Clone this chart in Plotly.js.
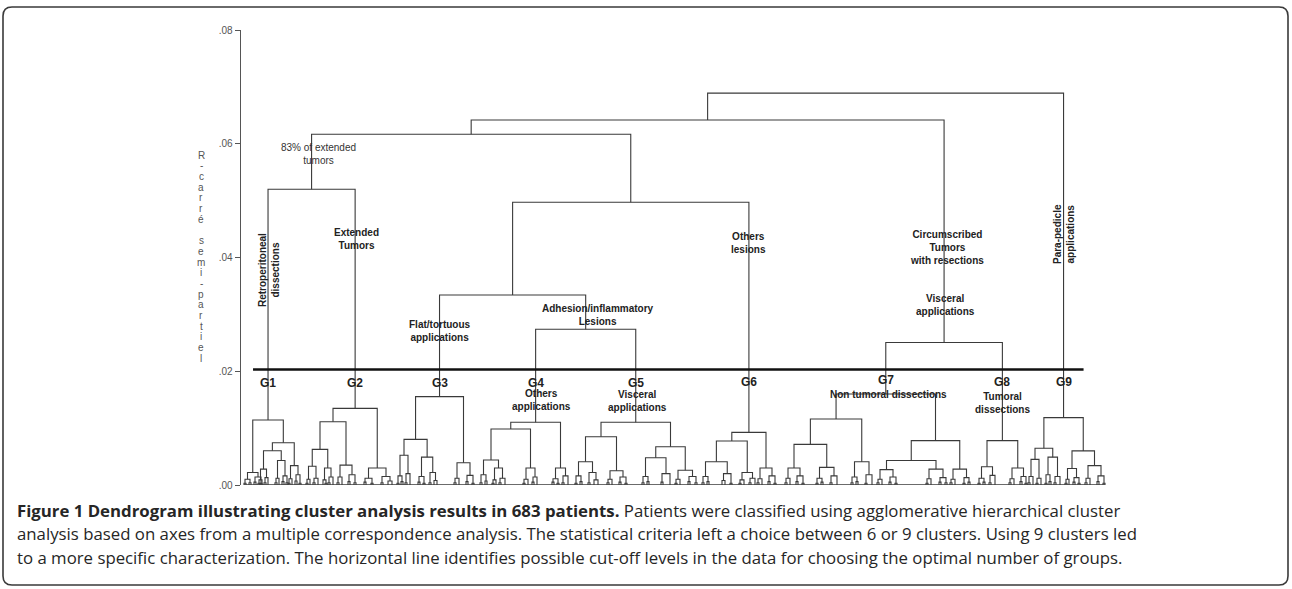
<!DOCTYPE html>
<html><head><meta charset="utf-8">
<script src="https://cdn.plot.ly/plotly-3.0.1.min.js"></script>
<style>html,body{margin:0;padding:0;background:#fff;}#chart{width:1292px;height:589px;}</style>
</head><body><div id="chart"></div>
<script>
// ---------------- DATA ----------------
// Node = [height, left, right]; leaf = leaf position (ordering coordinate)
const groupNames = ['G1','G2','G3','G4','G5','G6','G7','G8','G9'];

const g1Tree = [0.01143,
  [0.0022, [0.0010, [0.0003, 244, 246], [0.0004, 249, 251]], [0.0014, [0.0005, 254, 256], [0.0003, 260, 262]]],
  [0.00744,
    [0.00603, [0.0028, [0.0009, [0.0003, 258, 260], 262], [0.0013, [0.0004, 264, 266], 268]],
              [0.0043, [0.0012, [0.0004, 275, 277], 279], [0.0016, [0.0006, 282, 284], [0.0004, 286, 288]]]],
    [0.0034, [0.0011, [0.0003, 288, 290], 292], [0.0018, [0.0007, 295, 297], [0.0003, 299, 301]]]]];

const g2Tree = [0.01348,
  [0.01113,
    [0.00627, [0.0033, [0.0010, [0.0003, 306, 308], 310], [0.0012, [0.0004, 313, 315], 318]],
              [0.0030, [0.0009, 323, [0.0003, 325, 327]], [0.0014, [0.0004, 328, 330], 333]]],
    [0.0035, [0.0014, [0.0004, 337, 339], 342], [0.0018, [0.0006, 348, 350], [0.0004, 354, 356]]]],
  [0.0030, [0.0012, [0.0005, 364, 366], [0.0003, 371, 373]], [0.0015, [0.0004, 381, 383], [0.0007, 388, 392]]]];

const g3Tree = [0.01553,
  [0.00803,
    [0.00522, [0.0016, [0.0003, 397, 399], [0.0006, 401, 403]], [0.0020, [0.0004, 405, 407], 410]],
    [0.0049, [0.0015, [0.0005, 418, 420], [0.0003, 423, 425]], [0.0022, [0.0004, 429, 431], [0.0008, 434, 437]]]],
  [0.0039, [0.0012, [0.0004, 454, 456], 459], [0.0017, [0.0006, 466, 468], [0.0003, 472, 474]]]];

const g4Tree = [0.01102,
  [0.00985,
    [0.0044, [0.0018, [0.0004, 480, 482], [0.0007, 485, 487]],
             [0.0030, [0.0009, [0.0003, 492, 494], 496], [0.0012, [0.0004, 499, 501], 505]]],
    [0.0030, [0.0010, [0.0003, 523, 525], 528], [0.0014, [0.0005, 532, 534], 537]]],
  [0.0030, [0.0011, [0.0005, 552, 554], [0.0003, 557, 559]], [0.0016, [0.0004, 562, 564], 568]]];

const g5Tree = [0.01102,
  [0.00849,
    [0.0041, [0.0016, [0.0003, 575, 577], [0.0006, 580, 582]], [0.0022, [0.0004, 588, 590], [0.0009, 594, 598]]],
    [0.0025, [0.0010, [0.0004, 607, 609], 612], [0.0014, [0.0005, 619, 621], [0.0003, 625, 627]]]],
  [0.00673,
    [0.0048, [0.0015, [0.0004, 642, 644], [0.0006, 647, 649]], [0.0020, [0.0005, 661, 663], 670]],
    [0.0026, [0.0010, [0.0003, 675, 677], 680], [0.0015, [0.0006, 688, 690], [0.0004, 695, 697]]]]];

const g6Tree = [0.00926,
  [0.00774,
    [0.0041, [0.0015, [0.0004, 702, 704], [0.0006, 707, 709]], [0.0020, [0.0008, 722, 725], [0.0003, 730, 732]]],
    [0.0022, [0.0009, [0.0003, 739, 741], 744], [0.0012, [0.0004, 749, 751], 755]]],
  [0.0030, [0.0011, [0.0004, 757, 759], 762], [0.0016, [0.0006, 768, 770], [0.0003, 774, 776]]]];

const g7Tree = [0.0160,
  [0.0116,
    [0.00715,
      [0.0030, [0.0012, [0.0004, 785, 787], 790], [0.0016, [0.0006, 796, 798], [0.0003, 802, 804]]],
      [0.0031, [0.0012, [0.0003, 816, 818], [0.0005, 821, 823]], [0.0016, [0.0004, 830, 832], 837]]],
    [0.0041, [0.0014, [0.0004, 851, 853], [0.0006, 856, 858]], [0.0018, [0.0003, 865, 867], 872]]],
  [0.0078,
    [0.0043,
      [0.0027, [0.0010, [0.0004, 877, 879], 882], [0.0014, [0.0005, 889, 891], [0.0003, 895, 897]]],
      [0.0028, [0.0011, [0.0003, 926, 928], 931], [0.0013, [0.0005, 939, 941], [0.0004, 945, 947]]]],
    [0.0028, [0.0010, [0.0004, 950, 952], 955], [0.0013, [0.0003, 963, 965], [0.0005, 968, 970]]]]];

const g8Tree = [0.0078,
  [0.0032, [0.0012, [0.0003, 978, 980], [0.0005, 983, 985]], [0.0017, [0.0004, 989, 991], 995]],
  [0.0030, [0.0011, [0.0004, 1009, 1011], 1014], [0.0015, [0.0006, 1020, 1022], [0.0003, 1025, 1027]]]];

const g9Tree = [0.01184,
  [0.00645,
    [0.0045, [0.0015, [0.0004, 1028, 1030], 1033], [0.0012, [0.0003, 1036, 1038], 1041]],
    [0.0049, [0.0018, [0.0003, 1045, 1047], [0.0006, 1049, 1051]], [0.0015, [0.0004, 1054, 1056], 1060]]],
  [0.0060,
    [0.0029, [0.0010, [0.0003, 1065, 1067], 1069], [0.0013, [0.0005, 1073, 1075], [0.0003, 1078, 1080]]],
    [0.0034, [0.0012, [0.0004, 1085, 1087], 1090], [0.0016, [0.0006, 1097, 1099], [0.0003, 1103, 1105]]]]];

// merges between the nine groups
const upperTree = [0.0689,
  [0.06418,
    [0.06166, [0.0520, 'G1', 'G2'],
              [0.04971, [0.03341, 'G3', [0.02738, 'G4', 'G5']], 'G6']],
    [0.02505, 'G7', 'G8']],
  'G9'];

const cutLevel = 0.0203;
const yTickValues = [0, 0.02, 0.04, 0.06, 0.08];
const yTickLabels = ['.00', '.02', '.04', '.06', '.08'];
const yAxisTitle = 'R-carré semi-partiel';

const noteTexts = ['83% of extended<br>tumors'];
const rotatedLabels = ['Retroperitoneal<br>dissections', 'Para-pedicle<br>applications'];
const upperLabels = ['Extended<br>Tumors', 'Flat/tortuous<br>applications', 'Adhesion/inflammatory<br>Lesions',
  'Others<br>lesions', 'Circumscribed<br>Tumors<br>with resections', 'Visceral<br>applications'];
const lowerLabels = ['Others<br>applications', 'Visceral<br>applications', 'Non tumoral dissections', 'Tumoral<br>dissections'];
const captionLines = [
  '<b>Figure 1 Dendrogram illustrating cluster analysis results in 683 patients.</b> Patients were classified using agglomerative hierarchical cluster',
  'analysis based on axes from a multiple correspondence analysis. The statistical criteria left a choice between 6 or 9 clusters. Using 9 clusters led',
  'to a more specific characterization. The horizontal line identifies possible cut-off levels in the data for choosing the optimal number of groups.'
];

// ---------------- BUILD ----------------
const groupTrees = [g1Tree, g2Tree, g3Tree, g4Tree, g5Tree, g6Tree, g7Tree, g8Tree, g9Tree];
const xs = [], ys = [];
let leafMin = Infinity, leafMax = -Infinity;
const groupPos = {};
function draw(node) {
  if (typeof node === 'number') { leafMin = Math.min(leafMin, node); leafMax = Math.max(leafMax, node); return {x: node, h: 0}; }
  if (typeof node === 'string') return groupPos[node];
  const h = node[0];
  const A = draw(node[1]), B = draw(node[2]);
  xs.push(A.x, A.x, B.x, B.x, null);
  ys.push(A.h, h, h, B.h, null);
  return {x: (A.x + B.x) / 2, h: h};
}
groupTrees.forEach((t, i) => { groupPos[groupNames[i]] = draw(t); });
draw(upperTree);

// layout geometry (pixels)
const W = 1292, H = 589, PL = 241, PR = 1111, PT = 30, PB = 485;
const px2xp = px => (px - PL) / (PR - PL);
const py2yp = py => (PB - py) / (PB - PT);
const py2y = py => (PB - py) / (PB - PT) * 0.08;

const traces = [
  {x: xs, y: ys, type: 'scatter', mode: 'lines', line: {color: '#3a3a3a', width: 1.1}, hoverinfo: 'skip', connectgaps: false},
  {x: [leafMin, leafMax], y: [0, 0], type: 'scatter', mode: 'lines', line: {color: '#3a3a3a', width: 1.5}, hoverinfo: 'skip'}
];

const FONT = 'Liberation Sans, Arial, sans-serif';
const ann = [];
function lab(text, x, py, opts) {
  ann.push(Object.assign({text: text, x: x, y: py2y(py), xref: 'x', yref: 'y', showarrow: false,
    xanchor: 'center', yanchor: 'middle', align: 'center',
    font: {family: FONT, size: 10, color: '#222', weight: 700}}, opts || {}));
}
lab(noteTexts[0], 318.5, 154, {font: {family: FONT, size: 10, color: '#333'}});
lab(rotatedLabels[0], 269, 270, {textangle: -90});
lab(rotatedLabels[1], 1064, 234, {textangle: -90});
lab(upperLabels[0], 356, 239.2);
lab(upperLabels[1], 440, 330.5);
lab(upperLabels[2], 598, 314.7);
lab(upperLabels[3], 748, 243.3);
lab(upperLabels[4], 947, 247.2);
lab(upperLabels[5], 945.3, 305.3);
lab(lowerLabels[0], 541.7, 400.2);
lab(lowerLabels[1], 637.3, 401);
lab(lowerLabels[2], 888.8, 394.7);
lab(lowerLabels[3], 1002, 403);
const gLabelY = [383, 383, 383, 383, 383, 382, 380, 382, 382];
groupNames.forEach((g, i) => lab(g, groupPos[g].x, gLabelY[i], {font: {family: FONT, size: 12, color: '#222', weight: 700}}));

// vertical stacked y-axis title
Array.from(yAxisTitle).forEach((ch, i) => {
  ann.push({text: ch, x: px2xp(201), y: py2yp(155 + i * 10.7), xref: 'paper', yref: 'paper', showarrow: false,
    xanchor: 'center', yanchor: 'middle', font: {family: FONT, size: 10, color: '#555'}});
});

// caption
const capY = [510, 533.5, 557];
captionLines.forEach((t, i) => {
  ann.push({text: t, x: px2xp(15), y: py2yp(capY[i]), xref: 'paper', yref: 'paper', showarrow: false,
    xanchor: 'left', yanchor: 'middle', align: 'left', font: {family: 'Open Sans, sans-serif', size: 16.8, color: '#262626'}});
});

// rounded frame
const fx0 = px2xp(3), fx1 = px2xp(1288), fyT = py2yp(7), fyB = py2yp(585);
const rx = 9 / (PR - PL), ry = 9 / (PB - PT);
const framePath = `M ${fx0 + rx},${fyT} L ${fx1 - rx},${fyT} Q ${fx1},${fyT} ${fx1},${fyT - ry} L ${fx1},${fyB + ry} Q ${fx1},${fyB} ${fx1 - rx},${fyB} L ${fx0 + rx},${fyB} Q ${fx0},${fyB} ${fx0},${fyB + ry} L ${fx0},${fyT - ry} Q ${fx0},${fyT} ${fx0 + rx},${fyT} Z`;

const shapes = [
  {type: 'line', xref: 'x', yref: 'y', x0: groupPos.G1.x - 15, x1: groupPos.G9.x + 20, y0: cutLevel, y1: cutLevel,
   line: {color: '#111', width: 2.6}},
  {type: 'path', xref: 'paper', yref: 'paper', path: framePath, line: {color: '#3a3a3a', width: 1.6}, fillcolor: 'rgba(0,0,0,0)'}
];

const layout = {
  width: W, height: H,
  margin: {l: PL, r: W - PR, t: PT, b: H - PB, pad: 0},
  paper_bgcolor: '#fff', plot_bgcolor: '#fff', showlegend: false,
  xaxis: {range: [PL, PR], visible: false, fixedrange: true},
  yaxis: {range: [0, 0.08], tickvals: yTickValues, ticktext: yTickLabels, ticks: 'outside', ticklen: 5, tickwidth: 1,
    tickcolor: '#555', showline: true, linecolor: '#555', linewidth: 1.3, showgrid: false, zeroline: false,
    tickfont: {family: FONT, size: 10, color: '#555'}, fixedrange: true},
  annotations: ann, shapes: shapes
};
Plotly.newPlot('chart', traces, layout, {displayModeBar: false, staticPlot: true});
</script></body></html>
